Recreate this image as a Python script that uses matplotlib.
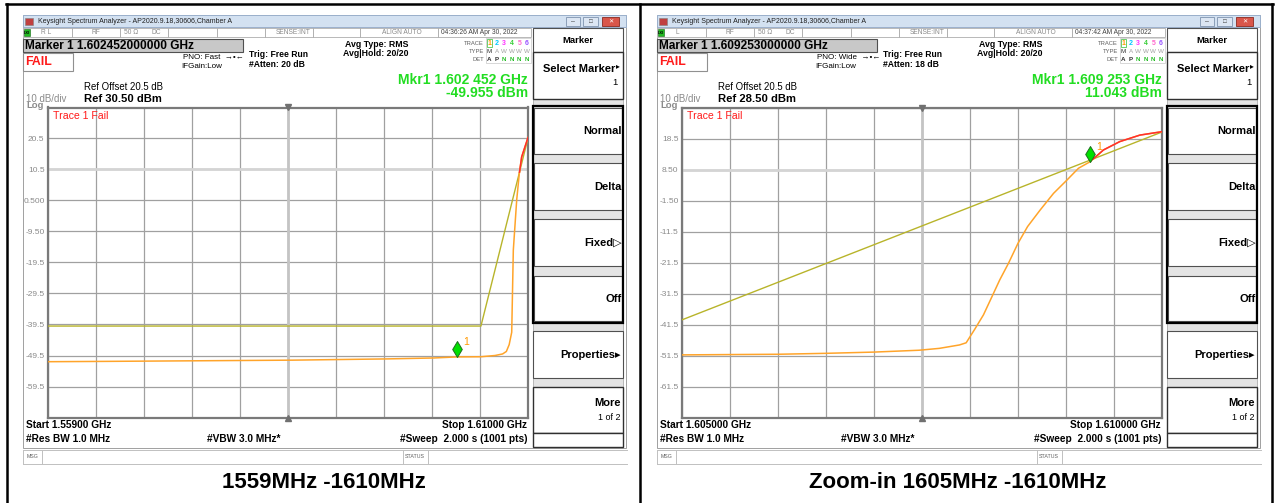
import numpy as np
import matplotlib
matplotlib.use("Agg")
import matplotlib.pyplot as plt
from matplotlib.patches import Rectangle
from matplotlib.path import Path

plt.rcParams['font.family'] = ['Liberation Sans', 'DejaVu Sans']

W, H = 1276, 503

# ---------- values read off the two analyser screens ----------
# left screen, 1559 - 1610 MHz
left_span = [1.559, 1.610]
left_ref = 30.5
left_freq = [1.5590, 1.5650, 1.5700, 1.5750, 1.5800, 1.5850, 1.5900, 1.5950,
             1.6000, 1.60245, 1.6050, 1.6065, 1.6073, 1.6077, 1.6080, 1.60827,
             1.60844, 1.6088, 1.60908, 1.60933, 1.6100]
left_level = [-51.5, -51.4, -51.3, -51.2, -51.1, -51.0, -50.8, -50.6,
              -50.3, -49.96, -49.9, -49.5, -49.0, -48.2, -46.0, -42.0,
              -15.5, 0.7, 9.3, 14.6, 20.8]
left_limit_freq = [1.559, 1.605, 1.610]
left_limit_level = [-40.0, -40.0, 20.6]
left_marker = [1.602452, -49.955]

# right screen, zoom 1605 - 1610 MHz
right_span = [1.605, 1.610]
right_ref = 28.5
right_freq = [1.6050, 1.6055, 1.6060, 1.6065, 1.6070, 1.60747, 1.60768, 1.60789,
              1.60796, 1.60805, 1.60814, 1.60822, 1.60831, 1.60840, 1.60850,
              1.60860, 1.60873, 1.60887, 1.60901, 1.60913, 1.609253, 1.60939,
              1.60956, 1.60977, 1.6100]
right_level = [-51.3, -51.2, -51.1, -50.8, -50.4, -49.8, -49.2, -48.1,
               -47.4, -43.0, -38.4, -33.1, -27.1, -21.8, -15.3,
               -9.9, -4.6, 0.8, 5.1, 8.9, 11.043, 14.8,
               17.5, 19.6, 20.7]
right_limit_freq = [1.605, 1.610]
right_limit_level = [-40.0, 20.6]
right_marker = [1.609253, 11.043]

# screen texts, one entry per screen
marker_line = ["Marker 1 1.602452000000 GHz", "Marker 1 1.609253000000 GHz"]
pno_line = ["PNO: Fast", "PNO: Wide"]
atten_line = ["#Atten: 20 dB", "#Atten: 18 dB"]
clock_line = ["04:36:26 AM Apr 30, 2022", "04:37:42 AM Apr 30, 2022"]
input_line = ["R L", "L"]
mkr_freq = ["Mkr1 1.602 452 GHz", "Mkr1 1.609 253 GHz"]
mkr_level = ["-49.955 dBm", "11.043 dBm"]
ref_line = ["Ref 30.50 dBm", "Ref 28.50 dBm"]
start_line = ["Start 1.55900 GHz", "Start 1.605000 GHz"]
stop_line = ["Stop 1.61000 GHz", "Stop 1.610000 GHz"]
caption = ["1559MHz -1610MHz", "Zoom-in 1605MHz -1610MHz"]

softkeys = ["Normal", "Delta", "Fixed\u25b7", "Off"]
trace_nums = ["1", "2", "3", "4", "5", "6"]
trace_cols = ["#FF9900", "#00C8FF", "#FF33FF", "#33CC33", "#FF66CC", "#9955FF"]

ORANGE = "#FFA42A"
OLIVE = "#B8B42A"
RED = "#FF2E2E"
GREEN = "#22DD22"
GREY_TXT = "#8A8A8A"

fig = plt.figure(figsize=(W / 100, H / 100), dpi=100)
bg = fig.add_axes([0, 0, 1, 1])
bg.set_xlim(0, W)
bg.set_ylim(H, 0)
bg.axis('off')


def box(x0, y0, x1, y1, fc='white', ec='#808080', lw=0.7, z=1):
    bg.add_patch(Rectangle((x0, y0), x1 - x0, y1 - y0, facecolor=fc,
                           edgecolor=ec, linewidth=lw, zorder=z))


def txt(x, y, s, size=6, color='black', weight='normal', ha='left', va='center'):
    bg.text(x, y, s, fontsize=size, color=color, fontweight=weight,
            ha=ha, va=va, zorder=5)


def hline(x0, x1, y, color='#B0B0B0', lw=0.7):
    bg.plot([x0, x1], [y, y], color=color, lw=lw, zorder=2)


def vline(x, y0, y1, color='#B0B0B0', lw=0.7):
    bg.plot([x, x], [y0, y1], color=color, lw=lw, zorder=2)


diamond = Path([(0, 0), (-0.6, 1), (0, 2), (0.6, 1), (0, 0)],
               [Path.MOVETO, Path.LINETO, Path.LINETO, Path.LINETO, Path.CLOSEPOLY])


def draw_screen(i, ox, span, ref, freq, level, lim_f, lim_l, marker):
    # window chrome
    box(23 + ox, 15, 626 + ox, 448, fc='white', ec='#A0A0A0', lw=0.7, z=0.5)
    box(23 + ox, 15, 626 + ox, 27, fc='#D3E1F1', ec='#9BB0CC')
    box(25 + ox, 18, 33 + ox, 25, fc='#C04040', ec='#808080', lw=0.4)
    txt(38 + ox, 21.5, "Keysight Spectrum Analyzer - AP2020.9.18,30606,Chamber A", size=5, color='#202020')
    box(566 + ox, 17, 580 + ox, 26, fc='#DCE6F3', ec='#7F93AE', lw=0.6, z=2)
    box(583 + ox, 17, 598 + ox, 26, fc='#DCE6F3', ec='#7F93AE', lw=0.6, z=2)
    box(602 + ox, 17, 619 + ox, 26, fc='#D9564A', ec='#8B2A20', lw=0.6, z=2)
    txt(573 + ox, 21.5, "\u2013", size=5, color='#404040', ha='center')
    txt(590.5 + ox, 21.5, "\u25a1", size=4.5, color='#404040', ha='center')
    txt(610.5 + ox, 21.5, "\u2715", size=4.5, color='white', ha='center')

    # status row
    box(23 + ox, 28, 531 + ox, 37, fc='white', ec='#B8B8B8')
    for sx in [72, 120, 168, 217, 265, 313, 360, 438]:
        vline(sx + ox, 28, 37)
    box(24 + ox, 29, 30 + ox, 36, fc='#22BB22', ec='#116611', lw=0.4, z=2)
    txt(27 + ox, 32.5, "LXI", size=2.8, color='black', ha='center', weight='bold')
    txt(41 + ox, 32.5, input_line[i], size=4.8, color=GREY_TXT)
    txt(96 + ox, 32.5, "RF", size=4.8, color=GREY_TXT, ha='center')
    txt(124 + ox, 32.5, "50 \u03a9", size=4.8, color=GREY_TXT)
    txt(152 + ox, 32.5, "DC", size=4.8, color=GREY_TXT)
    txt(311 + ox, 32.5, "SENSE:INT", size=4.8, color=GREY_TXT, ha='right')
    txt(402 + ox, 32.5, "ALIGN AUTO", size=4.8, color=GREY_TXT, ha='center')
    txt(441 + ox, 32.5, clock_line[i], size=4.8, color='#404040')

    # marker / fail boxes
    box(23 + ox, 39, 243 + ox, 52, fc='#C8C8C8', ec='#505050', lw=0.8)
    txt(25 + ox, 45.8, marker_line[i], size=8.6, weight='bold')
    box(23 + ox, 53, 73 + ox, 71, fc='white', ec='#909090', lw=0.8)
    txt(25.5 + ox, 62.3, "FAIL", size=8.8, color='#FF1A1A', weight='bold')

    txt(183 + ox, 57, pno_line[i] + "  \u2192\u2022\u2190", size=5.8)
    txt(181 + ox, 66, "IFGain:Low", size=5.8)
    txt(249 + ox, 54.5, "Trig: Free Run", size=6.2, weight='bold')
    txt(249 + ox, 64.5, atten_line[i], size=6.2, weight='bold')
    txt(345 + ox, 44.5, "Avg Type: RMS", size=6.3, weight='bold')
    txt(343 + ox, 53.5, "Avg|Hold: 20/20", size=6.3, weight='bold')

    # trace table
    box(486 + ox, 38, 531 + ox, 63, fc='white', ec='#C8C8C8', lw=0.5)
    txt(484 + ox, 43, "TRACE", size=4.2, color='#606060', ha='right')
    txt(484 + ox, 51, "TYPE", size=4.2, color='#606060', ha='right')
    txt(484 + ox, 59, "DET", size=4.2, color='#606060', ha='right')
    box(486.5 + ox, 39, 492 + ox, 47, fc='white', ec='#33BB33', lw=0.5, z=2)
    for k in range(6):
        tx = 489.3 + ox + 7.5 * k
        txt(tx, 43, trace_nums[k], size=5, color=trace_cols[k], ha='center', weight='bold')
        txt(tx, 51, "M" if k == 0 else ("A" if k == 1 else "W"), size=4.5,
            color='#303030' if k == 0 else '#A0A0A0', ha='center')
        txt(tx, 59, "A" if k == 0 else ("P" if k == 1 else "N"), size=4.5,
            color='#303030' if k < 2 else '#22BB22', ha='center', weight='bold')

    txt(528 + ox, 80, mkr_freq[i], size=10, color=GREEN, weight='bold', ha='right')
    txt(528 + ox, 92.5, mkr_level[i], size=10, color=GREEN, weight='bold', ha='right')
    txt(84 + ox, 87, "Ref Offset 20.5 dB", size=6.9)
    txt(84 + ox, 98.5, ref_line[i], size=8.1, weight='bold')
    txt(26 + ox, 98.5, "10 dB/div", size=7, color=GREY_TXT)
    txt(26.5 + ox, 105.5, "Log", size=6.8, color=GREY_TXT, weight='bold')

    # softkey panel
    box(533 + ox, 28, 623 + ox, 447, fc='#E4E4E4', ec='#A0A0A0', lw=0.5)
    box(533 + ox, 28, 623 + ox, 52, fc='white', ec='#505050', lw=0.8)
    txt(578 + ox, 40, "Marker", size=6.8, weight='bold', ha='center')
    box(533 + ox, 52, 623 + ox, 99, fc='white', ec='#303030', lw=1.0)
    txt(615 + ox, 68.5, "Select Marker", size=8, weight='bold', ha='right')
    txt(616 + ox, 67, "\u25b8", size=5.5, ha='left')
    txt(618 + ox, 82, "1", size=6.8, ha='right')
    key_y = [(108, 154), (163, 210), (219, 266), (276, 321)]
    for (y0, y1), lab in zip(key_y, softkeys):
        box(534 + ox, y0, 622 + ox, y1, fc='white', ec='#505050', lw=0.8, z=1.8)
        txt(621.5 + ox, (y0 + y1) / 2, lab, size=8, weight='bold', ha='right')
    box(533 + ox, 106, 623 + ox, 323, fc='none', ec='black', lw=1.6, z=2.5)
    box(533 + ox, 331, 623 + ox, 378, fc='white', ec='#505050', lw=0.8)
    txt(621 + ox, 355, "Properties\u25b8", size=8, weight='bold', ha='right')
    box(533 + ox, 387, 623 + ox, 433, fc='white', ec='#303030', lw=1.0)
    txt(621 + ox, 403.5, "More", size=8, weight='bold', ha='right')
    txt(621 + ox, 418, "1 of 2", size=6.5, ha='right')
    box(533 + ox, 433, 623 + ox, 447, fc='white', ec='#303030', lw=1.0)

    # bottom readout
    txt(26 + ox, 425.5, start_line[i], size=7.3, weight='bold')
    txt(527 + ox, 425.5, stop_line[i], size=7.3, weight='bold', ha='right')
    txt(26 + ox, 438.5, "#Res BW 1.0 MHz", size=7.3, weight='bold')
    txt(207 + ox, 438.5, "#VBW 3.0 MHz*", size=7.3, weight='bold')
    txt(527 + ox, 438.5, "#Sweep  2.000 s (1001 pts)", size=7.3, weight='bold', ha='right')

    # message row
    hline(23 + ox, 627 + ox, 449.5, color='#C0C0C0')
    hline(23 + ox, 627 + ox, 463.5, color='#C0C0C0')
    vline(23 + ox, 449.5, 463.5, color='#C0C0C0')
    for sx in [42, 403, 428]:
        vline(sx + ox, 449.5, 463.5, color='#C0C0C0')
    txt(27 + ox, 456.5, "MSG", size=3.8, color='#606060')
    txt(405 + ox, 456.5, "STATUS", size=3.8, color='#606060')

    txt(323.5 + ox, 482, caption[i], size=16, weight='bold', ha='center')

    # measurement graticule
    ax = fig.add_axes([(48 + ox) / W, 1 - 417.5 / H, 480 / W, 310 / H])
    ax.set_facecolor('white')
    ax.set_xlim(span)
    ax.set_ylim(ref - 100, ref)
    yt = ref - 100 + 10 * np.arange(11)
    ax.set_xticks(np.linspace(span[0], span[1], 11))
    ax.set_xticklabels([])
    ax.set_yticks(yt)
    ax.set_yticklabels([""] + [f"{v:#.3g}" for v in yt[1:-1]] + [""])
    ax.tick_params(length=0, pad=2.5, labelsize=6, labelcolor=GREY_TXT)
    ax.set_axisbelow(True)
    ax.grid(True, color='#A0A0A0', lw=0.9)
    for sp in ax.spines.values():
        sp.set_color('#7A7A7A')
        sp.set_linewidth(1.6)
    mid = (span[0] + span[1]) / 2
    ax.axhline(ref - 20, color='#D4D4D4', lw=2.0, zorder=1.2)
    ax.axvline(mid, color='#C4C4C4', lw=2.0, zorder=1.2)
    ax.plot([mid], [ref], marker='v', color='#707070', ms=5, clip_on=False, zorder=6)
    ax.plot([mid], [ref - 100], marker='^', color='#707070', ms=5, clip_on=False, zorder=6)
    ax.text(0.01, 0.972, "Trace 1 Fail", transform=ax.transAxes, color='#FF1A1A',
            fontsize=7.6, ha='left', va='center')

    # limit line and trace
    f = np.array(freq)
    lv = np.array(level)
    ax.plot(lim_f, lim_l, color=OLIVE, lw=1.0, zorder=3)
    ax.plot(f, lv, color=ORANGE, lw=1.1, zorder=4)
    d = lv - np.interp(f, lim_f, lim_l)
    k = int(np.argmax(d > 0))
    t = d[k - 1] / (d[k - 1] - d[k])
    fx = f[k - 1] + t * (f[k] - f[k - 1])
    lx = lv[k - 1] + t * (lv[k] - lv[k - 1])
    ax.plot(np.r_[fx, f[k:]], np.r_[lx, lv[k:]], color=RED, lw=1.1, zorder=4.5)

    ax.plot(marker[0], marker[1], marker=diamond, ms=23, mfc='#00E000', mec='#1E6E1E',
            mew=0.7, ls='none', zorder=6, clip_on=False)
    ax.annotate("1", (marker[0], marker[1]), xytext=(4.5, 8.5), textcoords='offset points',
                color='#FF9900', fontsize=7.5, zorder=6)


draw_screen(0, 0, left_span, left_ref, left_freq, left_level,
            left_limit_freq, left_limit_level, left_marker)
draw_screen(1, 634, right_span, right_ref, right_freq, right_level,
            right_limit_freq, right_limit_level, right_marker)

# black frame round the two screens
bg.plot([6, 1273], [4, 4], color='black', lw=1.8, zorder=7)
for bx in [7, 640, 1272]:
    bg.plot([bx, bx], [4, H], color='black', lw=1.8, zorder=7)

fig.savefig("out.png", dpi=100)
